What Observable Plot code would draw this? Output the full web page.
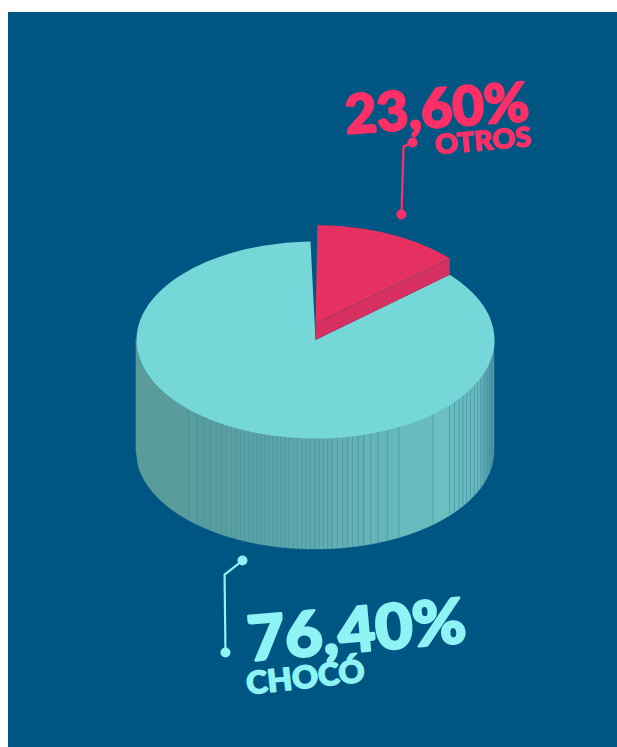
<!DOCTYPE html>
<html lang="es">
<head>
<meta charset="utf-8">
<script src="https://cdn.jsdelivr.net/npm/d3@7"></script>
<script src="https://cdn.jsdelivr.net/npm/@observablehq/plot@0.6"></script>
<style>
  html, body { margin: 0; padding: 0; background: #ffffff; overflow: hidden; }
  #chart { margin-left: 8px; margin-top: 12px; width: 609px; height: 735px; }
  svg { display: block; }
</style>
</head>
<body>
<div id="chart"></div>
<script>
// Printed values and names
const labelValues = ["23,60%", "76,40%"];
const labelNames = ["OTROS", "CHOCÓ"];
// Angles (degrees clockwise from the top of the pie) of the wedge as it is drawn in the picture
const wedgeStart = 0.6;
const wedgeEnd = 48.6;
const gapStart = -1.6;
// Facet boundaries along the pie's wall (in pie radii, -1 left edge, 1 right edge)
const wallEdges = [-1, -0.706, -0.661, -0.620, -0.587, -0.553, -0.525, -0.497, -0.469, -0.445, -0.419,
  -0.395, -0.371, -0.348, -0.326, -0.304, -0.281, -0.259, -0.237, -0.214, -0.192, -0.170, -0.147, -0.123,
  -0.101, -0.076, -0.052, -0.028, -0.003, 0.021, 0.045, 0.069, 0.093, 0.123, 0.151, 0.179, 0.207, 0.238,
  0.270, 0.309, 0.350, 0.402, 0.467, 0.657, 0.749, 0.777, 0.803, 0.825, 0.844, 0.866, 0.887, 0.905, 0.924,
  0.942, 0.958, 0.972, 0.985, 1];

// Pie geometry in radii
const sideDepth = 1.127;
const lift = 0.165;
const rad = (a) => a * Math.PI / 180;
const arc = (from, to, dy = 0) => d3.range(0, 121).map((i) => {
  const a = rad(from + (to - from) * i / 120);
  return {x: Math.sin(a), y: Math.cos(a) + dy};
});
const apex = (dy = 0) => ({x: 0, y: dy});

const tealTop = [apex(), ...arc(wedgeEnd, 360 + gapStart)];
const redTop = [apex(lift), ...arc(wedgeStart, wedgeEnd, lift)];
const redEnd = arc(wedgeEnd, wedgeEnd)[0];
const redSide = [apex(lift), {x: redEnd.x, y: redEnd.y + lift}, {x: redEnd.x, y: redEnd.y}, apex()];

const front = (x) => -Math.sqrt(Math.max(0, 1 - x * x));
const wallRows = [];
wallEdges.slice(0, -1).forEach((x0, i) => {
  const x1 = wallEdges[i + 1];
  const mid = (x0 + x1) / 2;
  d3.range(0, 25).forEach((k) => {
    const x = x0 + (x1 - x0) * k / 24;
    wallRows.push({facet: i, mid, x, y1: front(x), y2: front(x) - sideDepth});
  });
});
const wallLines = wallEdges.slice(1, -1).map((x) => ({x, y1: front(x), y2: front(x) - sideDepth}));

// Call-outs (pie radii)
const red = "#ff2f68";
const cyan = "#8ef3f5";
const leaderRed = [{x: 0.542, y: 2.005}, {x: 0.492, y: 1.964}, {x: 0.480, y: 1.274}];
const leaderCyan = [{x: -0.408, y: -2.239}, {x: -0.508, y: -2.381}, {x: -0.503, y: -3.173}];
const texts = [
  {t: labelValues[0], x: 0.173, y: 2.095, size: 54, rotate: -4.1, fill: red, len: 184, sw: 2.2},
  {t: labelNames[0], x: 0.672, y: 1.885, size: 27, rotate: -5, fill: red, len: 96, sw: 1.3},
  {t: labelValues[1], x: -0.369, y: -3.26, size: 62, rotate: -5, fill: cyan, len: 219, sw: 2.4},
  {t: labelNames[1], x: -0.380, y: -3.60, size: 31, rotate: -6.4, fill: cyan, len: 119, sw: 1.5}
];

const textMarks = texts.map((d) => Plot.text([d], {
  x: "x", y: "y", text: "t", rotate: d.rotate, fontSize: d.size, fill: d.fill,
  stroke: d.fill, strokeWidth: d.sw, strokeLinejoin: "round",
  fontFamily: "Lato, 'Open Sans', sans-serif", fontWeight: 900,
  textAnchor: "start", lineAnchor: "bottom"
}));

const svg = Plot.plot({
  width: 609,
  height: 735,
  margin: 0,
  style: {background: "#005682", overflow: "visible"},
  x: {domain: [-1, 1], range: [128, 486], axis: null},
  y: {domain: [1, -1], range: [229, 426], axis: null},
  color: {
    type: "linear",
    domain: [-1, -0.6, 0, 0.7, 0.92, 1],
    range: ["#5b9b99", "#589d9f", "#61abb0", "#6bc0c1", "#66b8bd", "#4c8fa2"]
  },
  marks: [
    Plot.areaY(wallRows, {x: "x", y1: "y1", y2: "y2", z: "facet", fill: "mid", stroke: "mid", strokeWidth: 0.5}),
    Plot.ruleX(wallLines, {x: "x", y1: "y1", y2: "y2", stroke: "#4a90a6", strokeWidth: 0.9, strokeOpacity: 0.65}),
    Plot.line(tealTop, {x: "x", y: "y", fill: "#76d7d9", stroke: "none"}),
    Plot.line(redSide, {x: "x", y: "y", fill: "#d5305f", stroke: "none"}),
    Plot.line(redTop, {x: "x", y: "y", fill: "#e63062", stroke: "none"}),
    Plot.line([apex(lift), {x: redEnd.x, y: redEnd.y + lift}], {x: "x", y: "y", stroke: "#8a3f74", strokeWidth: 0.6}),
    Plot.line(leaderRed, {x: "x", y: "y", stroke: red, strokeWidth: 2.2}),
    Plot.dot([leaderRed[0], leaderRed[2]], {x: "x", y: "y", r: 5, fill: red}),
    Plot.line(leaderCyan, {x: "x", y: "y", stroke: cyan, strokeWidth: 2.2}),
    Plot.dot([leaderCyan[0], leaderCyan[2]], {x: "x", y: "y", r: 5, fill: cyan}),
    ...textMarks
  ]
});

const lengths = new Map(texts.map((d) => [d.t, d.len]));
d3.select(svg).selectAll("text").each(function () {
  const len = lengths.get(this.textContent);
  if (len) d3.select(this).attr("textLength", len).attr("lengthAdjust", "spacingAndGlyphs");
});
document.getElementById("chart").append(svg);
</script>
</body>
</html>
